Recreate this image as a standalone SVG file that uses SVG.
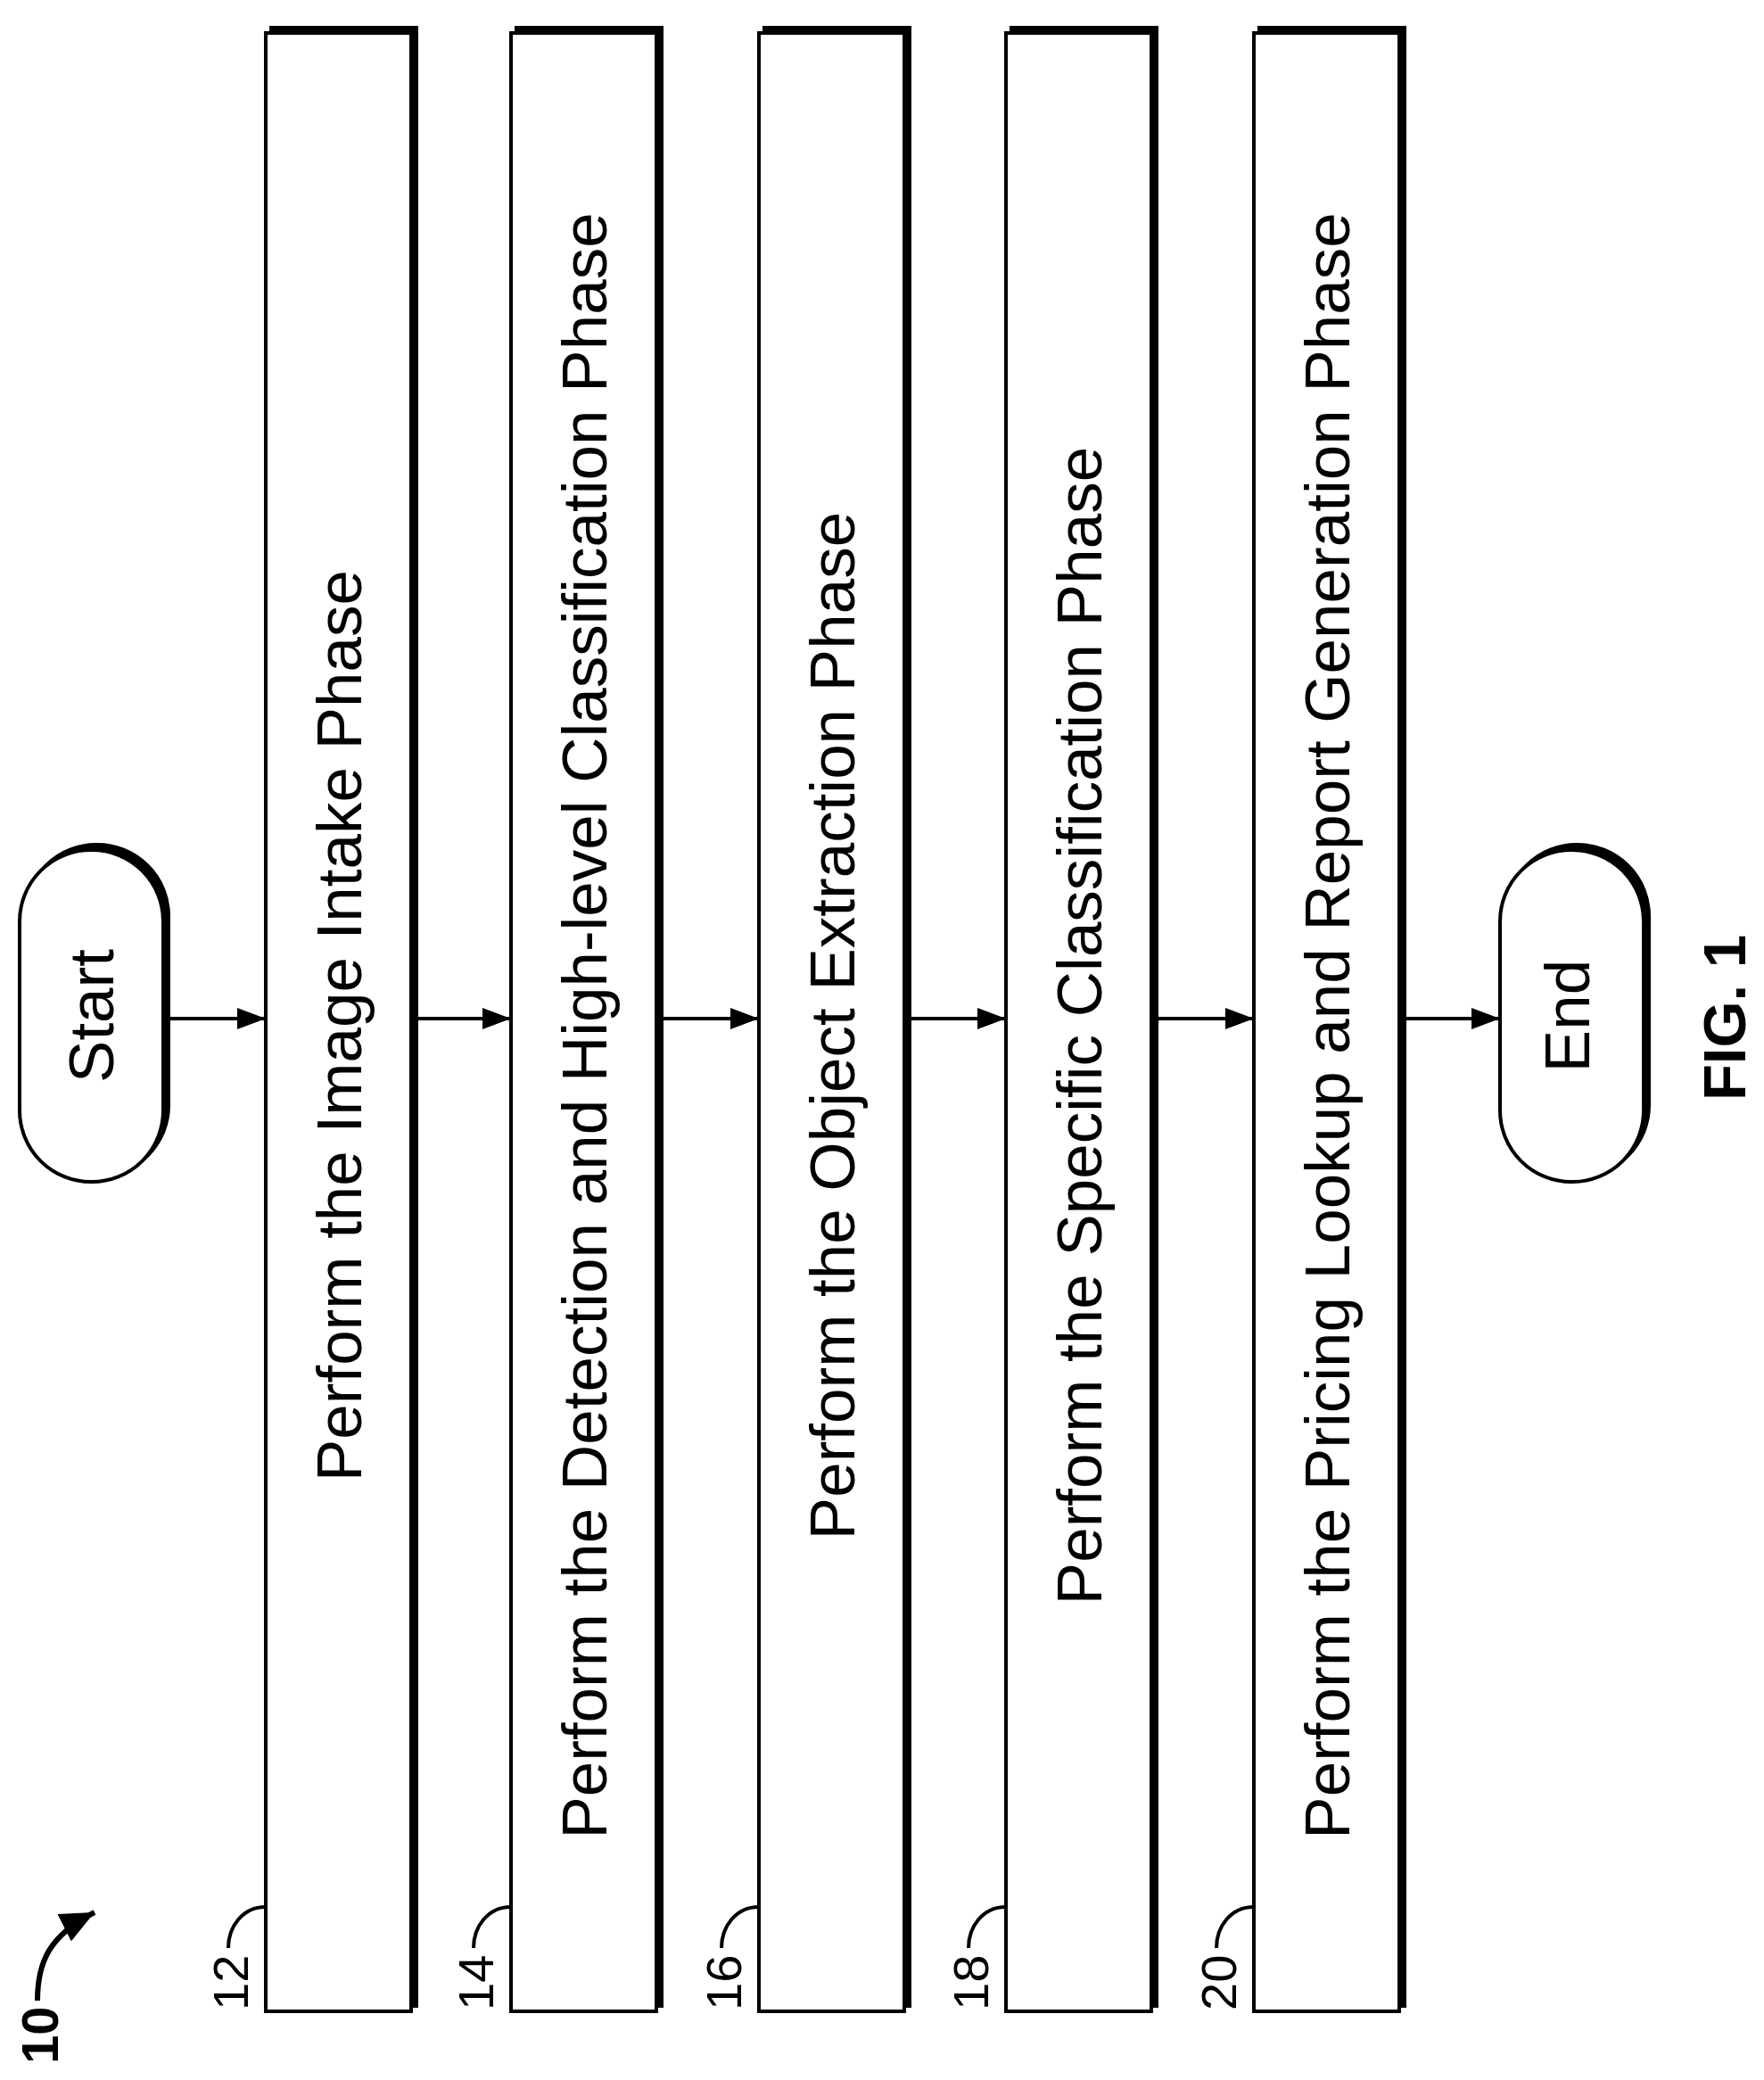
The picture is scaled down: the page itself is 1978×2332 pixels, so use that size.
<svg xmlns="http://www.w3.org/2000/svg" width="1978" height="2332" viewBox="0 0 1978 2332">
<style>
.box{fill:#fff;stroke:#000;stroke-width:4}
.sh{fill:#000;stroke:#000;stroke-width:4}
.t{font-family:"Liberation Sans",Arial,sans-serif;font-size:71px;fill:#000;text-anchor:middle}
.ref{font-family:"Liberation Sans",Arial,sans-serif;font-size:56px;fill:#000}
.lead{fill:none;stroke:#000;stroke-width:4}
.con{stroke:#000;stroke-width:4;fill:none}
</style>
<defs>
<marker id="ah" markerUnits="userSpaceOnUse" markerWidth="34" markerHeight="24" refX="32" refY="12" orient="auto"><path d="M0,0 L32,12 L0,24 Z" fill="#000"/></marker>
<marker id="ah2" markerUnits="userSpaceOnUse" markerWidth="40" markerHeight="34" refX="38" refY="17" orient="auto"><path d="M0,0 L38,17 L0,34 Z" fill="#000"/></marker>
</defs>
<g id="start">
<rect class="sh" x="28" y="947" width="161" height="372" rx="80"/>
<rect class="box" x="22" y="953" width="161" height="372" rx="80"/>
<text class="t" transform="translate(127,1139) rotate(-90)">Start</text>
</g>
<g id="n12">
<rect class="sh" x="304" y="31" width="163" height="2218"/>
<rect class="box" x="298" y="37" width="163" height="2218"/>
<text class="t" transform="translate(405,1150) rotate(-90)">Perform the Image Intake Phase</text>
<path class="lead" d="M298,2138 C272,2138 256,2160 256,2184"/>
<text class="ref" transform="translate(278,2254) rotate(-90)">12</text>
</g>
<g id="n14">
<rect class="sh" x="579" y="31" width="163" height="2218"/>
<rect class="box" x="573" y="37" width="163" height="2218"/>
<text class="t" transform="translate(680,1150) rotate(-90)">Perform the Detection and High-level Classification Phase</text>
<path class="lead" d="M573,2138 C547,2138 531,2160 531,2184"/>
<text class="ref" transform="translate(553,2254) rotate(-90)">14</text>
</g>
<g id="n16">
<rect class="sh" x="857" y="31" width="163" height="2218"/>
<rect class="box" x="851" y="37" width="163" height="2218"/>
<text class="t" transform="translate(958,1150) rotate(-90)">Perform the Object Extraction Phase</text>
<path class="lead" d="M851,2138 C825,2138 809,2160 809,2184"/>
<text class="ref" transform="translate(831,2254) rotate(-90)">16</text>
</g>
<g id="n18">
<rect class="sh" x="1134" y="31" width="163" height="2218"/>
<rect class="box" x="1128" y="37" width="163" height="2218"/>
<text class="t" transform="translate(1235,1150) rotate(-90)">Perform the Specific Classification Phase</text>
<path class="lead" d="M1128,2138 C1102,2138 1086,2160 1086,2184"/>
<text class="ref" transform="translate(1108,2254) rotate(-90)">18</text>
</g>
<g id="n20">
<rect class="sh" x="1412" y="31" width="163" height="2218"/>
<rect class="box" x="1406" y="37" width="163" height="2218"/>
<text class="t" transform="translate(1513,1150) rotate(-90)">Perform the Pricing Lookup and Report Generation Phase</text>
<path class="lead" d="M1406,2138 C1380,2138 1364,2160 1364,2184"/>
<text class="ref" transform="translate(1386,2254) rotate(-90)">20</text>
</g>
<g id="end">
<rect class="sh" x="1688" y="947" width="161" height="372" rx="80"/>
<rect class="box" x="1682" y="953" width="161" height="372" rx="80"/>
<text class="t" transform="translate(1782,1139) rotate(-90)">End</text>
</g>
<g id="connectors">
<line class="con" x1="189" y1="1142" x2="298" y2="1142" marker-end="url(#ah)"/>
<line class="con" x1="467" y1="1142" x2="573" y2="1142" marker-end="url(#ah)"/>
<line class="con" x1="742" y1="1142" x2="851" y2="1142" marker-end="url(#ah)"/>
<line class="con" x1="1020" y1="1142" x2="1128" y2="1142" marker-end="url(#ah)"/>
<line class="con" x1="1297" y1="1142" x2="1406" y2="1142" marker-end="url(#ah)"/>
<line class="con" x1="1575" y1="1142" x2="1682" y2="1142" marker-end="url(#ah)"/>
</g>
<g id="fig">
<path d="M42,2243 C42,2200 55,2170 106,2144" fill="none" stroke="#000" stroke-width="6" marker-end="url(#ah2)"/>
<text transform="translate(65,2314) rotate(-90)" style="font-family:'Liberation Sans',Arial,sans-serif;font-size:58px;font-weight:bold">10</text>
<text transform="translate(1957,1141) rotate(-90)" style="font-family:'Liberation Sans',Arial,sans-serif;font-size:67px;font-weight:bold;text-anchor:middle">FIG. 1</text>
</g>
</svg>
